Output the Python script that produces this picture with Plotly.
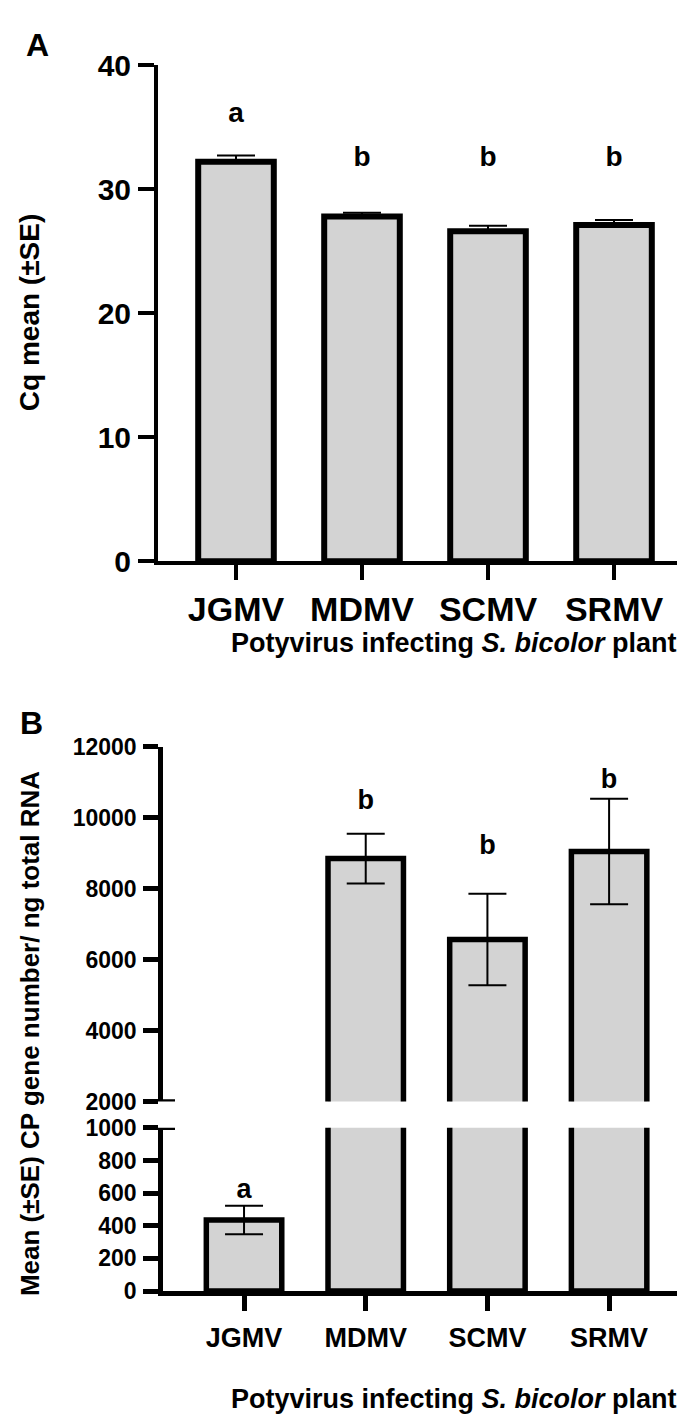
import plotly.graph_objects as go

# ---- data ----
categories = ["JGMV", "MDMV", "SCMV", "SRMV"]

# Panel A: Cq mean (+SE)
cq_mean = [32.2, 27.8, 26.6, 27.1]
cq_se = [0.5, 0.3, 0.45, 0.4]
cq_letters = ["a", "b", "b", "b"]
cq_letter_y = [36.0, 32.4, 32.4, 32.4]

# Panel B: CP gene copy number / ng total RNA (mean ± SE)
cp_mean = [435, 8850, 6570, 9050]
cp_se = [87, 700, 1290, 1490]
cp_letters = ["a", "b", "b", "b"]
cp_letter_y = [610, 10430, 9160, 11040]

a_ticks = [0, 10, 20, 30, 40]
b_low_ticks = [0, 200, 400, 600, 800, 1000]
b_up_ticks = [2000, 4000, 6000, 8000, 10000, 12000]

# ---- layout helpers ----
W, H = 685, 1427
FONT = "Liberation Sans, Arial, sans-serif"
BAR_FILL = "#d3d3d3"


def px_x(p):
    return p / W


def px_y(p):
    return 1 - p / H


fig = go.Figure()

# Panel A
fig.add_trace(go.Bar(
    x=categories, y=cq_mean, xaxis="x", yaxis="y",
    marker=dict(color=BAR_FILL, line=dict(color="black", width=6)),
    width=0.6, showlegend=False, hoverinfo="skip",
    error_y=dict(type="data", array=cq_se, arrayminus=[0] * len(cq_se),
                 color="black", thickness=2, width=19),
))
fig.add_trace(go.Scatter(
    x=categories, y=cq_letter_y, text=cq_letters, mode="text",
    textfont=dict(family=FONT, size=28, color="black", weight="bold"),
    xaxis="x", yaxis="y", showlegend=False, hoverinfo="skip", cliponaxis=False,
))

# Panel B (broken axis: lower 0-1000, upper 2000-12000)
for xa, ya in (("x2", "y2"), ("x3", "y3")):
    fig.add_trace(go.Bar(
        x=categories, y=cp_mean, xaxis=xa, yaxis=ya,
        marker=dict(color=BAR_FILL, line=dict(color="black", width=5.5)),
        width=0.62, showlegend=False, hoverinfo="skip",
        error_y=dict(type="data", array=cp_se, color="black", thickness=2, width=19),
    ))
fig.add_trace(go.Scatter(
    x=categories[:1], y=cp_letter_y[:1], text=cp_letters[:1], mode="text",
    textfont=dict(family=FONT, size=27, color="black", weight="bold"),
    xaxis="x2", yaxis="y2", showlegend=False, hoverinfo="skip", cliponaxis=False,
))
fig.add_trace(go.Scatter(
    x=categories[1:], y=cp_letter_y[1:], text=cp_letters[1:], mode="text",
    textfont=dict(family=FONT, size=27, color="black", weight="bold"),
    xaxis="x3", yaxis="y3", showlegend=False, hoverinfo="skip", cliponaxis=False,
))

# ---- axes (pixel positions) ----
A_left, A_right = 150, 683
A_top, A_bot = 42, 550
B_left, B_right = 155, 683
B_up_top, B_up_bot = 740, 1103
B_lo_top, B_lo_bot = 1130, 1297

tickfont_a = dict(family=FONT, size=30, color="black", weight="bold")
catfont_a = dict(family=FONT, size=34, color="black", weight="bold")
tickfont_b = dict(family=FONT, size=23, color="black", weight="bold")
catfont_b = dict(family=FONT, size=27, color="black", weight="bold")

fig.update_layout(
    width=W, height=H,
    margin=dict(l=0, r=0, t=0, b=0),
    paper_bgcolor="white", plot_bgcolor="white",
    xaxis=dict(
        domain=[px_x(A_left), px_x(A_right)], anchor="y",
        range=[-0.619, 3.611], showgrid=False, zeroline=False,
        showline=True, linecolor="black", linewidth=4,
        ticks="outside", ticklen=15, tickwidth=4, tickcolor="black",
        tickfont=catfont_a, ticklabelstandoff=0,
    ),
    yaxis=dict(
        domain=[px_y(A_bot), px_y(A_top)], anchor="x",
        range=[0, 40], tickvals=a_ticks, showgrid=False, zeroline=False,
        showline=True, linecolor="black", linewidth=4,
        ticks="outside", ticklen=16, tickwidth=4, tickcolor="black",
        tickfont=tickfont_a, ticklabelstandoff=1,
    ),
    xaxis2=dict(
        domain=[px_x(B_left), px_x(B_right)], anchor="y2",
        range=[-0.666, 3.673], showgrid=False, zeroline=False,
        showline=True, linecolor="black", linewidth=4.5,
        ticks="outside", ticklen=15, tickwidth=4.5, tickcolor="black",
        tickfont=catfont_b, ticklabelstandoff=4,
    ),
    yaxis2=dict(
        domain=[px_y(B_lo_bot), px_y(B_lo_top)], anchor="x2",
        range=[0, 1000], tickvals=b_low_ticks, tickformat="d",
        showgrid=False, zeroline=False,
        showline=True, linecolor="black", linewidth=4.5,
        ticks="outside", ticklen=15, tickwidth=4.5, tickcolor="black",
        tickfont=tickfont_b, ticklabelstandoff=2,
    ),
    xaxis3=dict(
        domain=[px_x(B_left), px_x(B_right)], anchor="y3",
        range=[-0.666, 3.673], visible=False,
    ),
    yaxis3=dict(
        domain=[px_y(B_up_bot), px_y(B_up_top)], anchor="x3",
        range=[2000, 12000], tickvals=b_up_ticks, tickformat="d",
        showgrid=False, zeroline=False,
        showline=True, linecolor="black", linewidth=4.5,
        ticks="outside", ticklen=15, tickwidth=4.5, tickcolor="black",
        tickfont=tickfont_b, ticklabelstandoff=2,
    ),
)

# axis-break markers (short horizontal bars crossing the axis)
for yref, yv in (("y3", 2000), ("y2", 1000)):
    fig.add_shape(type="line", xref="paper", yref=yref,
                  x0=px_x(B_left - 8), x1=px_x(B_left + 12), y0=yv, y1=yv,
                  line=dict(color="black", width=4.5))

ann_font = dict(family=FONT, color="black")
annotations = [
    dict(text="<b>A</b>", x=px_x(29), y=px_y(22), font=dict(size=32, **ann_font)),
    dict(text="<b>B</b>", x=px_x(23), y=px_y(716), font=dict(size=32, **ann_font)),
    dict(text="<b>Cq mean (±SE)</b>", x=px_x(21), y=px_y(296), textangle=-90,
         font=dict(size=28, **ann_font)),
    dict(text="<b>Potyvirus infecting <i>S. bicolor</i> plant</b>", x=px_x(446), y=px_y(634),
         font=dict(size=27, **ann_font)),
    dict(text="<b>Mean (±SE) CP gene number/ ng total RNA</b>", x=px_x(22), y=px_y(1034),
         textangle=-90, font=dict(size=26, **ann_font)),
    dict(text="<b>Potyvirus infecting <i>S. bicolor</i> plant</b>", x=px_x(446), y=px_y(1408),
         font=dict(size=27, **ann_font)),
]
for a in annotations:
    fig.add_annotation(xref="paper", yref="paper", showarrow=False,
                       xanchor="center", yanchor="middle", **a)

fig.write_html("out.html")
